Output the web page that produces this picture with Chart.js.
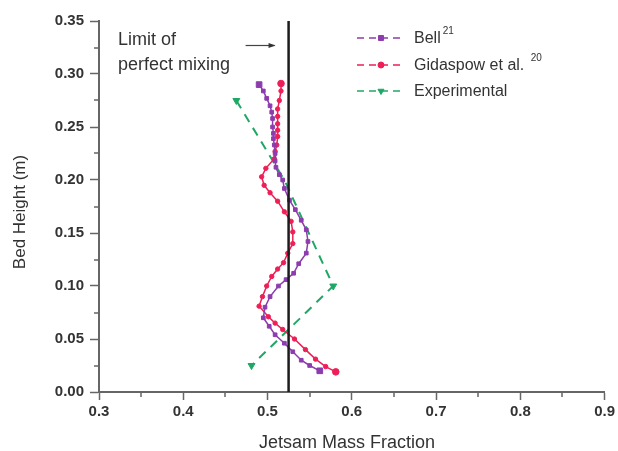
<!DOCTYPE html>
<html>
<head>
<meta charset="utf-8">
<script src="https://cdn.jsdelivr.net/npm/chart.js@4.4.0/dist/chart.umd.min.js"></script>
<style>
html, body { margin: 0; padding: 0; background: #fff; }
#wrap { width: 618px; height: 451px; }
</style>
</head>
<body>
<div id="wrap"><canvas id="chart" width="618" height="451"></canvas></div>
<script>
'use strict';

// Bell (ref. 21): bed height (m) and jetsam mass fraction, top of bed down
const bellHeight = [
    0.290, 0.284, 0.277, 0.270, 0.264, 0.258, 0.250, 0.244, 0.239, 0.233,
    0.225, 0.218, 0.212, 0.205, 0.200, 0.192, 0.181, 0.172, 0.162, 0.153,
    0.142, 0.131, 0.121, 0.112, 0.106, 0.100, 0.090, 0.080, 0.070, 0.062,
    0.054, 0.046, 0.038, 0.030, 0.025, 0.020
];
const bellFraction = [
    0.490, 0.495, 0.499, 0.503, 0.505, 0.506, 0.506, 0.507, 0.507, 0.508,
    0.509, 0.509, 0.510, 0.514, 0.518, 0.520, 0.526, 0.533, 0.540, 0.546,
    0.548, 0.546, 0.537, 0.531, 0.522, 0.513, 0.503, 0.497, 0.495, 0.502,
    0.509, 0.520, 0.530, 0.540, 0.550, 0.562
];

// Gidaspow et al. (ref. 20)
const gidaspowHeight = [
    0.291, 0.284, 0.275, 0.267, 0.260, 0.253, 0.247, 0.241, 0.233, 0.227,
    0.220, 0.211, 0.203, 0.195, 0.188, 0.180, 0.170, 0.161, 0.151, 0.140,
    0.131, 0.122, 0.116, 0.109, 0.100, 0.090, 0.081, 0.071, 0.065, 0.059,
    0.050, 0.040, 0.031, 0.024, 0.019
];
const gidaspowFraction = [
    0.516, 0.516, 0.514, 0.512, 0.512, 0.512, 0.512, 0.512, 0.511, 0.509,
    0.508, 0.498, 0.493, 0.496, 0.503, 0.512, 0.520, 0.528, 0.530, 0.530,
    0.524, 0.519, 0.512, 0.505, 0.499, 0.494, 0.490, 0.501, 0.509, 0.518,
    0.532, 0.545, 0.557, 0.569, 0.581
];

// measured profile
const expHeight = [0.275, 0.200, 0.100, 0.025];
const expFraction = [0.463, 0.520, 0.578, 0.481];

// fully mixed bed
const limitFraction = 0.525;

const xTicks = [0.3, 0.4, 0.5, 0.6, 0.7, 0.8, 0.9];
const yTicks = [0.00, 0.05, 0.10, 0.15, 0.20, 0.25, 0.30, 0.35];

const seriesLabels = ['Bell', 'Gidaspow et al.', 'Experimental'];
const seriesRefs = ['21', '20', ''];

const FONT = "'Liberation Sans', Arial, Helvetica, sans-serif";
const TEXT = '#333';
const AXIS = '#666';
const PURPLE = '#8d3cae';
const RED = '#ee1f57';
const GREEN = '#1fa865';

const toPoints = (xs, ys) => xs.map((x, i) => ({ x, y: ys[i] }));

// bigger markers at the two ends of a profile
const endRadius = (small, big) => ctx => {
    const n = ctx.dataset.data.length;
    return ctx.dataIndex === 0 || ctx.dataIndex === n - 1 ? big : small;
};

const minorTicks = {
    id: 'minorTicks',
    afterDraw(chart) {
        const { ctx } = chart;
        const x = chart.scales.x;
        const y = chart.scales.y;
        ctx.save();
        ctx.strokeStyle = AXIS;
        ctx.lineWidth = 1.5;
        ctx.beginPath();
        for (let i = 0; i < xTicks.length - 1; i++) {
            const px = Math.round(x.getPixelForValue((xTicks[i] + xTicks[i + 1]) / 2));
            ctx.moveTo(px, y.bottom);
            ctx.lineTo(px, y.bottom + 5);
        }
        for (let i = 0; i < yTicks.length - 1; i++) {
            const py = Math.round(y.getPixelForValue((yTicks[i] + yTicks[i + 1]) / 2));
            ctx.moveTo(x.left, py);
            ctx.lineTo(x.left - 5, py);
        }
        ctx.stroke();
        ctx.restore();
    }
};

const notes = {
    id: 'notes',
    afterDraw(chart) {
        const { ctx, chartArea } = chart;
        const x = chart.scales.x;
        ctx.save();
        ctx.fillStyle = TEXT;
        ctx.textBaseline = 'alphabetic';

        // axis titles
        ctx.font = '18px ' + FONT;
        ctx.textAlign = 'center';
        ctx.fillText('Jetsam Mass Fraction', chartArea.left + 248, 448);
        ctx.save();
        ctx.translate(25, chartArea.top + 191);
        ctx.rotate(-Math.PI / 2);
        ctx.font = '17px ' + FONT;
        ctx.fillText('Bed Height (m)', 0, 0);
        ctx.restore();

        // label and arrow for the perfect mixing line
        ctx.textAlign = 'left';
        ctx.font = '18px ' + FONT;
        ctx.fillText('Limit of', chartArea.left + 19, 45);
        ctx.fillText('perfect mixing', chartArea.left + 19, 70);
        const tip = x.getPixelForValue(limitFraction) - 14;
        ctx.strokeStyle = '#444';
        ctx.lineWidth = 1.2;
        ctx.beginPath();
        ctx.moveTo(tip - 29, 45.5);
        ctx.lineTo(tip, 45.5);
        ctx.stroke();
        ctx.beginPath();
        ctx.moveTo(tip + 1, 45.5);
        ctx.lineTo(tip - 6, 43);
        ctx.lineTo(tip - 6, 48);
        ctx.closePath();
        ctx.fill();

        // legend
        const rows = [38, 65, 91];
        const x0 = 357;
        chart.data.datasets.slice(0, 3).forEach((ds, i) => {
            const cy = rows[i];
            ctx.save();
            ctx.strokeStyle = ds.borderColor;
            ctx.lineWidth = 1.5;
            ctx.setLineDash([7, 5]);
            ctx.beginPath();
            ctx.moveTo(x0, cy);
            ctx.lineTo(x0 + 46, cy);
            ctx.stroke();
            ctx.setLineDash([]);
            ctx.fillStyle = ds.pointBackgroundColor;
            ctx.strokeStyle = ds.pointBorderColor;
            ctx.lineWidth = 1;
            Chart.helpers.drawPoint(ctx, {
                pointStyle: ds.pointStyle,
                rotation: ds.pointRotation || 0,
                radius: ds.legendRadius,
                borderWidth: 1
            }, x0 + 24, cy);
            ctx.restore();

            ctx.fillStyle = TEXT;
            ctx.font = '16px ' + FONT;
            ctx.textBaseline = 'middle';
            const label = seriesLabels[i] + (seriesRefs[i] && i === 1 ? ' ' : '');
            ctx.fillText(label, 414, cy + 1);
            if (seriesRefs[i]) {
                const w = ctx.measureText(label).width;
                ctx.font = '10px ' + FONT;
                ctx.fillText(seriesRefs[i], 414 + w + 2, cy - 7);
            }
        });
        ctx.restore();
    }
};

new Chart(document.getElementById('chart'), {
    type: 'scatter',
    data: {
        datasets: [
            {
                label: seriesLabels[0],
                data: toPoints(bellFraction, bellHeight),
                showLine: true,
                borderColor: PURPLE,
                borderWidth: 1.5,
                pointStyle: 'rect',
                pointRadius: endRadius(2.6, 4),
                pointBackgroundColor: PURPLE,
                pointBorderColor: PURPLE,
                pointBorderWidth: 1,
                legendRadius: 3.5,
                tension: 0
            },
            {
                label: seriesLabels[1],
                data: toPoints(gidaspowFraction, gidaspowHeight),
                showLine: true,
                borderColor: RED,
                borderWidth: 1.5,
                pointStyle: 'circle',
                pointRadius: endRadius(2.2, 3.3),
                pointBackgroundColor: RED,
                pointBorderColor: RED,
                pointBorderWidth: 1,
                legendRadius: 3,
                tension: 0
            },
            {
                label: seriesLabels[2],
                data: toPoints(expFraction, expHeight),
                showLine: true,
                borderColor: GREEN,
                borderWidth: 2,
                borderDash: [9, 7],
                pointStyle: 'triangle',
                pointRotation: 180,
                rotation: 180,
                pointRadius: [4, 0, 4, 4],
                pointBackgroundColor: GREEN,
                pointBorderColor: GREEN,
                pointBorderWidth: 1,
                legendRadius: 3.5,
                tension: 0
            },
            {
                label: 'Limit of perfect mixing',
                data: [{ x: limitFraction, y: yTicks[0] }, { x: limitFraction, y: yTicks[yTicks.length - 1] }],
                showLine: true,
                borderColor: '#1c1c1c',
                borderWidth: 2.5,
                pointRadius: 0,
                order: -1
            }
        ]
    },
    options: {
        responsive: false,
        animation: false,
        devicePixelRatio: 1,
        layout: { padding: { top: 21, right: 12, left: 0, bottom: 0 } },
        plugins: {
            legend: { display: false },
            tooltip: { enabled: false }
        },
        scales: {
            x: {
                type: 'linear',
                min: xTicks[0],
                max: xTicks[xTicks.length - 1],
                afterBuildTicks: s => { s.ticks = xTicks.map(v => ({ value: v })); },
                afterFit: s => { s.height = 59; },
                ticks: {
                    callback: v => Number(v).toFixed(1),
                    font: { family: FONT, size: 15, weight: 'bold' },
                    color: TEXT,
                    padding: 3,
                    maxRotation: 0,
                    autoSkip: false
                },
                grid: {
                    drawOnChartArea: false,
                    drawTicks: true,
                    tickLength: 8,
                    tickColor: AXIS,
                    tickWidth: 1.5
                },
                border: { color: AXIS, width: 2 }
            },
            y: {
                type: 'linear',
                min: yTicks[0],
                max: yTicks[yTicks.length - 1],
                afterBuildTicks: s => { s.ticks = yTicks.map(v => ({ value: v })); },
                afterFit: s => { s.width = 99; },
                ticks: {
                    callback: v => Number(v).toFixed(2),
                    font: { family: FONT, size: 15, weight: 'bold' },
                    color: TEXT,
                    padding: 6,
                    autoSkip: false
                },
                grid: {
                    drawOnChartArea: false,
                    drawTicks: true,
                    tickLength: 9,
                    tickColor: AXIS,
                    tickWidth: 1.5
                },
                border: { color: AXIS, width: 2 }
            }
        }
    },
    plugins: [minorTicks, notes]
});
</script>
</body>
</html>
